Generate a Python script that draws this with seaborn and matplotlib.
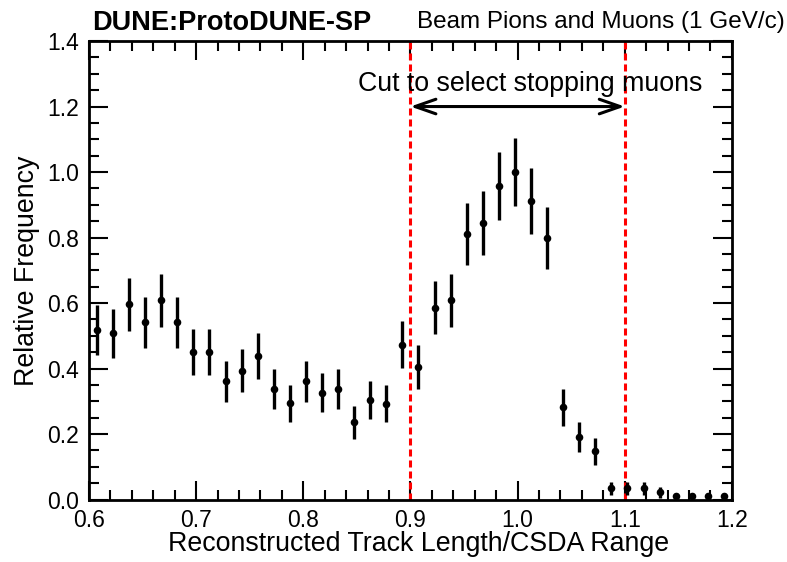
import numpy as np
import pandas as pd
import matplotlib
matplotlib.use("Agg")
import matplotlib.pyplot as plt
from matplotlib.ticker import MultipleLocator, FormatStrFormatter
import seaborn as sns

# Binning: 40 bins of width 0.015 over [0.6, 1.2]
bin_lo = 0.6
bin_width = 0.015

frequency = [0.518, 0.508, 0.597, 0.541, 0.608, 0.541, 0.450, 0.450, 0.361, 0.394,
             0.439, 0.339, 0.294, 0.361, 0.327, 0.339, 0.236, 0.304, 0.293, 0.473,
             0.406, 0.586, 0.608, 0.810, 0.845, 0.958, 1.000, 0.912, 0.799, 0.282,
             0.192, 0.147, 0.035, 0.035, 0.035, 0.022, 0.010, 0.010, 0.010, 0.010]
frequency_err = [0.075, 0.075, 0.081, 0.077, 0.082, 0.077, 0.071, 0.071, 0.063, 0.066,
                 0.070, 0.061, 0.057, 0.063, 0.060, 0.061, 0.051, 0.058, 0.057, 0.072,
                 0.067, 0.080, 0.082, 0.094, 0.097, 0.103, 0.105, 0.100, 0.094, 0.056,
                 0.046, 0.040, 0.020, 0.020, 0.020, 0.016, 0.011, 0.011, 0.011, 0.011]

cut_lo, cut_hi = 0.9, 1.1

centers = bin_lo + bin_width * (np.arange(len(frequency)) + 0.5)
df = pd.DataFrame({"ratio": centers, "freq": frequency, "err": frequency_err})

sns.set_theme(style="ticks")
plt.rcParams["font.family"] = ["Liberation Sans", "DejaVu Sans"]
plt.rcParams["text.color"] = "black"
plt.rcParams["axes.labelcolor"] = "black"
plt.rcParams["xtick.color"] = "black"
plt.rcParams["ytick.color"] = "black"

fig = plt.figure(figsize=(7.87, 5.62), dpi=100)
ax = fig.add_axes([0.113, 0.111, 0.817, 0.816])

ax.errorbar(df["ratio"], df["freq"], yerr=df["err"], fmt="none",
            ecolor="black", elinewidth=2.4, capsize=0, zorder=3)
sns.scatterplot(data=df, x="ratio", y="freq", ax=ax, color="black",
                s=30, edgecolor="black", linewidth=0, zorder=4, legend=False)

# Selection cut lines
for xc in (cut_lo, cut_hi):
    ax.axvline(xc, color="red", lw=2.2, dashes=(2.3, 1.3), zorder=2)

ax.annotate("", xy=(cut_lo, 1.2), xytext=(cut_hi, 1.2),
            arrowprops=dict(arrowstyle="<->, head_length=1.0, head_width=0.35",
                            color="black", lw=2.2, mutation_scale=15,
                            shrinkA=0, shrinkB=0))
ax.text(1.0115, 1.248, "Cut to select stopping muons", ha="center",
        va="baseline", fontsize=19.3)

ax.set_xlim(0.6, 1.2)
ax.set_ylim(0.0, 1.4)
ax.xaxis.set_major_locator(MultipleLocator(0.1))
ax.xaxis.set_minor_locator(MultipleLocator(0.02))
ax.yaxis.set_major_locator(MultipleLocator(0.2))
ax.yaxis.set_minor_locator(MultipleLocator(0.05))
ax.xaxis.set_major_formatter(FormatStrFormatter("%.1f"))
ax.yaxis.set_major_formatter(FormatStrFormatter("%.1f"))
ax.tick_params(which="both", direction="in", top=True, right=True,
               width=1.5, labelsize=16.5, color="black")
ax.tick_params(which="major", length=14, pad=7)
ax.tick_params(which="minor", length=7)
for sp in ax.spines.values():
    sp.set_linewidth(2)
    sp.set_color("black")

ax.set_xlabel("Reconstructed Track Length/CSDA Range", fontsize=19.3, labelpad=0)
ax.xaxis.set_label_coords(0.513, -0.068)
ax.set_ylabel("Relative Frequency", fontsize=19.3, labelpad=5)

fig.text(0.117, 0.946, "DUNE:ProtoDUNE-SP", fontsize=19.5, fontweight="bold",
         ha="left", va="baseline")
fig.text(0.997, 0.950, "Beam Pions and Muons (1 GeV/c)", fontsize=17.5,
         ha="right", va="baseline")

fig.savefig("out.png", dpi=100)
